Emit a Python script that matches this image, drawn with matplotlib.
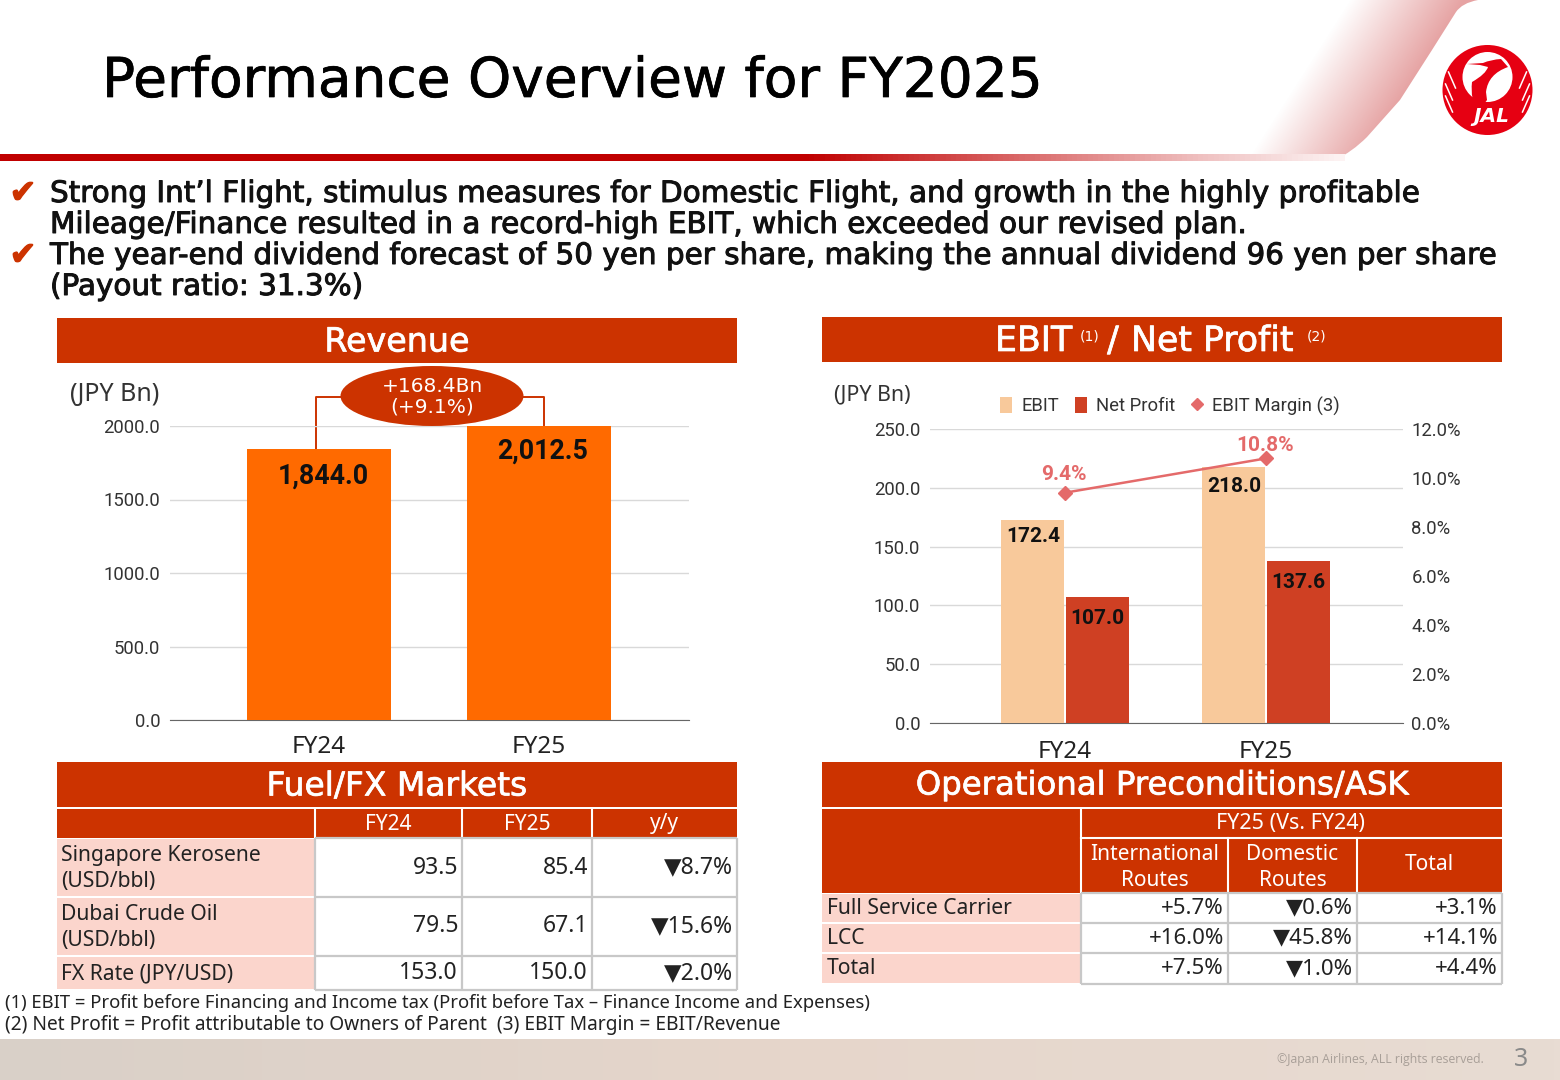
import numpy as np
import matplotlib
matplotlib.use('Agg')
import matplotlib.pyplot as plt
import matplotlib.patheffects as pe
from matplotlib.colors import LinearSegmentedColormap
from matplotlib.patches import Rectangle, Ellipse, Circle, PathPatch
from matplotlib.path import Path

plt.rcParams['font.family'] = ['DejaVu Sans']

# Data
revenue_cats = ['FY24', 'FY25']
revenue_vals = [1844.0, 2012.5]
revenue_labels = ['1,844.0', '2,012.5']
revenue_ticks = [0, 500, 1000, 1500, 2000]

profit_cats = ['FY24', 'FY25']
ebit_vals = [172.4, 218.0]
net_profit_vals = [107.0, 137.6]
ebit_margin = [9.4, 10.8]
profit_ticks = [0, 50, 100, 150, 200, 250]
margin_ticks = [0, 2, 4, 6, 8, 10, 12]

fuel_header = ['', 'FY24', 'FY25', 'y/y']
fuel_rows = ['Singapore Kerosene\n(USD/bbl)', 'Dubai Crude Oil\n(USD/bbl)', 'FX Rate (JPY/USD)']
fuel_fy24 = ['93.5', '79.5', '153.0']
fuel_fy25 = ['85.4', '67.1', '150.0']
fuel_yoy = ['▼8.7%', '▼15.6%', '▼2.0%']

ask_header = ['International\nRoutes', 'Domestic\nRoutes', 'Total']
ask_rows = ['Full Service Carrier', 'LCC', 'Total']
ask_intl = ['+5.7%', '+16.0%', '+7.5%']
ask_dom = ['▼0.6%', '▼45.8%', '▼1.0%']
ask_total = ['+3.1%', '+14.1%', '+4.4%']

RED = '#cc3300'
PINK = '#fbd5cc'
ORANGE = '#ff6a00'
GRID = '#c8c8c8'
TBL = 'Noto Sans'
W, H = 1560, 1080

fig = plt.figure(figsize=(15.6, 10.8), dpi=100)
bg = fig.add_axes([0, 0, 1, 1], zorder=0)
bg.axis('off')


def px_axes(x0, x1, ytop, ybot):
    ax = fig.add_axes([x0 / W, 1 - ybot / H, (x1 - x0) / W, (ybot - ytop) / H], zorder=1)
    ax.patch.set_alpha(0)
    return ax


def rect(x0, y0, x1, y1, color, z=1):
    bg.add_patch(Rectangle((x0, y0), x1 - x0, y1 - y0, fc=color, ec='none', zorder=z))


def bold_ish(t, color, w=0.6):
    # fake a medium weight, DejaVu only has regular and bold
    t.set_path_effects([pe.withStroke(linewidth=w, foreground=color)])
    return t


def cell_grid(xs, ys):
    # grey lines in the body of the tables
    for x in xs[1:]:
        bg.plot([x, x], [ys[0], ys[-1]], color=GRID, lw=1.6, zorder=3, solid_capstyle='butt')
    for y in ys:
        bg.plot([xs[1], xs[-1]], [y, y], color=GRID, lw=1.6, zorder=3, solid_capstyle='butt')


# swoosh, fades out to the left of its edge
grad = np.linspace(0, 1, 256).reshape(1, -1)
xx, yy = np.meshgrid(np.arange(1200, 1500), np.arange(0, 160))
fade = np.clip(1 - ((1432 - (yy - 50) * 0.64) - xx) / 115, 0, 1)
white_red = LinearSegmentedColormap.from_list('wr', ['#ffffff', '#e6a3a3'])
sw = bg.imshow(fade, extent=(1200, 1500, 160, 0), cmap=white_red, aspect='auto', zorder=1)
verts = [(1200, 160), (1335, 160), (1352, 152), (1367, 137), (1400, 100), (1432, 50), (1456, 12),
         (1462, 3), (1478, 0), (1200, 0), (1200, 160)]
codes = [Path.MOVETO, Path.LINETO, Path.CURVE3, Path.CURVE3, Path.LINETO, Path.LINETO, Path.LINETO,
         Path.CURVE3, Path.CURVE3, Path.LINETO, Path.CLOSEPOLY]
clip = PathPatch(Path(verts, codes), transform=bg.transData, fc='none', ec='none')
bg.add_patch(clip)
sw.set_clip_path(clip)
line_grad = LinearSegmentedColormap.from_list(
    'line', [(0, '#c00000'), (0.6, '#c00000'), (0.9, '#f0c4c4'), (1, '#fdf3f3')])
bg.imshow(grad, extent=(0, 1345, 161, 154), cmap=line_grad, aspect='auto', zorder=2)

# JAL logo, drawn roughly
LOGO = '#e60012'
bg.add_patch(Circle((1487.5, 90), 45, fc=LOGO, ec='none', zorder=3))
bg.add_patch(Circle((1487.5, 77), 25, fc='white', ec='none', zorder=4))
crane = [(1467, 64), (1483, 63), (1491, 59.5), (1501, 59), (1508, 67), (1488, 74), (1486, 92), (1487, 100),
         (1478, 112), (1470, 100), (1472, 82), (1486, 74), (1488, 67), (1480, 65), (1467, 64)]
crane_codes = [Path.MOVETO, Path.LINETO, Path.CURVE3, Path.CURVE3, Path.LINETO, Path.CURVE3, Path.CURVE3,
               Path.LINETO, Path.LINETO, Path.CURVE3, Path.CURVE3, Path.CURVE3, Path.LINETO, Path.LINETO, Path.LINETO]
bg.add_patch(PathPatch(Path(crane, crane_codes), fc=LOGO, ec='none', zorder=5))
for sign in (-1, 1):
    for dx, y0 in [(39, 72), (42, 84), (42, 96)]:
        bg.plot([1487.5 + sign * dx, 1487.5 + sign * (dx - 7)], [y0, y0 + 16], color='white', lw=1.1, zorder=5)
bg.text(1491, 116, 'JAL', color='white', fontsize=14.5, fontweight='bold', style='italic',
        ha='center', va='center', zorder=6)

bold_ish(bg.text(102, 82, 'Performance Overview for FY2025', fontsize=39.6, ha='left', va='center', color='black'),
         'black', 0.5)

# bullets
bullet_lines = [
    (194, 'Strong Int’l Flight, stimulus measures for Domestic Flight, and growth in the highly profitable'),
    (225, 'Mileage/Finance resulted in a record-high EBIT, which exceeded our revised plan.'),
    (256, 'The year-end dividend forecast of 50 yen per share, making the annual dividend 96 yen per share'),
    (287, '(Payout ratio: 31.3%)'),
]
for y, t in bullet_lines:
    bold_ish(bg.text(50, y, t, fontsize=21.2, ha='left', va='center', color='#111111'), '#111111', 0.7)
for y in [194, 256]:
    bold_ish(bg.text(23, y, '✔', fontsize=23, color=RED, ha='center', va='center'), RED, 1.0)


def header(x, y, txt, ha='center', size=23.7):
    bold_ish(bg.text(x, y, txt, color='white', fontsize=size, ha=ha, va='center'), 'white', 0.5)


# section headers
rect(57, 318, 737, 363, RED)
header(397, 342, 'Revenue', size=24)
rect(822, 317, 1502, 362, RED)
header(995, 341, 'EBIT', 'left', size=25)
bg.text(1090, 336, '(1)', color='white', fontsize=10, ha='center', va='center')
header(1113, 341, '/', size=25)
header(1131, 341, 'Net Profit', 'left', size=25)
bg.text(1317, 336, '(2)', color='white', fontsize=10, ha='center', va='center')
rect(57, 762, 737, 807, RED)
header(397, 786, 'Fuel/FX Markets')
rect(822, 762, 1502, 807, RED)
header(1162, 786, 'Operational Preconditions/ASK', size=23.3)

# revenue chart
ax = px_axes(170, 689, 426, 720)
x = np.arange(len(revenue_cats))
ax.bar(x, revenue_vals, width=144 / 220, color=ORANGE, zorder=3)
ax.set_xlim(-149 / 220, 1 + 150 / 220)
ax.set_ylim(0, 2000)
ax.set_yticks(revenue_ticks, [f'{v:.1f}' for v in revenue_ticks], family='Roboto', fontsize=13.3, color='#333333')
ax.set_xticks(x, revenue_cats, fontsize=17.5, color='#222222', family=TBL)
ax.tick_params(axis='both', length=0)
ax.tick_params(axis='y', pad=7)
ax.tick_params(axis='x', pad=11)
ax.grid(axis='y', color='#d9d9d9', lw=1, zorder=0)
for s in ['top', 'right', 'left']:
    ax.spines[s].set_visible(False)
ax.spines['bottom'].set_color('#666666')
for xi, v, lab in zip(x, revenue_vals, revenue_labels):
    ax.annotate(lab, (xi, v), xytext=(4, -27), textcoords='offset pixels', ha='center', va='center',
                fontsize=19.3, fontweight='bold', family='Roboto', color='#111111', annotation_clip=False, zorder=5)
bg.text(115, 395, '(JPY Bn)', fontsize=18, ha='center', va='center', color='#333333', family=TBL)
bg.plot([315.5, 315.5, 345], [450, 396.5, 396.5], color=RED, lw=1.4, zorder=2)
bg.plot([520, 544, 544], [396.5, 396.5, 425], color=RED, lw=1.4, zorder=2)
bg.add_patch(Ellipse((432, 396), 183, 60, fc=RED, ec='none', zorder=3))
bg.text(432, 386, '+168.4Bn', color='white', fontsize=14.5, ha='center', va='center', zorder=4)
bg.text(432, 407, '(+9.1%)', color='white', fontsize=14.5, ha='center', va='center', zorder=4)

# EBIT / net profit chart
ax2 = px_axes(930, 1403, 429, 723)
x = np.arange(len(profit_cats))
bw = 63 / 201
off = 32.5 / 201
ax2.bar(x - off, ebit_vals, width=bw, color='#f8c99b', zorder=3, label='EBIT')
ax2.bar(x + off, net_profit_vals, width=bw, color='#cf4023', zorder=3, label='Net Profit')
ax2.set_xlim(-135 / 201, 1 + 137 / 201)
ax2.set_ylim(0, 250)
ax2.set_yticks(profit_ticks, [f'{v:.1f}' for v in profit_ticks], family='Roboto', fontsize=13.3, color='#333333')
ax2.set_xticks(x, profit_cats, fontsize=17.5, color='#222222', family=TBL)
ax2.tick_params(axis='both', length=0)
ax2.tick_params(axis='y', pad=7)
ax2.tick_params(axis='x', pad=12)
ax2.grid(axis='y', color='#d9d9d9', lw=1, zorder=0)
for s in ['top', 'right', 'left']:
    ax2.spines[s].set_visible(False)
ax2.spines['bottom'].set_color('#666666')
for xi, v, dy in zip(x - off, ebit_vals, [-16, -20]):
    ax2.annotate(f'{v:.1f}', (xi, v), xytext=(1, dy), textcoords='offset pixels', ha='center', va='center',
                 fontsize=15, fontweight='bold', family='Roboto', color='#111111', zorder=5)
for xi, v in zip(x + off, net_profit_vals):
    ax2.annotate(f'{v:.1f}', (xi, v), xytext=(0, -21), textcoords='offset pixels', ha='center', va='center',
                 fontsize=15, fontweight='bold', family='Roboto', color='#111111', zorder=5)

ax3 = ax2.twinx()
ax3.patch.set_alpha(0)
ax3.plot(x, ebit_margin, color='#e46a6a', lw=1.8, marker='D', ms=7, zorder=6, label='EBIT Margin (3)')
ax3.set_ylim(0, 12)
ax3.set_yticks(margin_ticks, [f'{v:.1f}%' for v in margin_ticks], family='Roboto', fontsize=13.3, color='#333333')
ax3.tick_params(axis='y', length=0, pad=6)
for s in ax3.spines.values():
    s.set_visible(False)
for xi, v, dy in zip(x, ebit_margin, [18, 13]):
    ax3.annotate(f'{v:.1f}%', (xi, v), xytext=(-1, dy), textcoords='offset pixels', ha='center', va='center',
                 fontsize=15, fontweight='bold', family='Roboto', color='#e46a6a')
bg.text(872, 395, '(JPY Bn)', fontsize=15.4, ha='center', va='center', color='#333333', family=TBL)
h1, l1 = ax2.get_legend_handles_labels()
h3, l3 = ax3.get_legend_handles_labels()
h3[0] = plt.Line2D([], [], ls='none', marker='D', ms=6, color='#e46a6a')
ax2.legend(h1 + h3, l1 + l3, ncol=3, frameon=False, loc='center', bbox_to_anchor=(1170, 406),
           bbox_transform=bg.transData, prop={'family': 'Roboto', 'size': 13.3}, handlelength=0.65,
           handleheight=0.9, handletextpad=0.5, columnspacing=0.85, labelcolor='#333333')

# fuel table
fx = [57, 315, 462, 592, 737]
fy = [838, 897, 956, 990]
rect(fx[0], 809, fx[-1], 838, RED)
for i in range(1, 4):
    bg.text((fx[i] + fx[i + 1]) / 2, 824, fuel_header[i], color='white', fontsize=15, ha='center', va='center', family=TBL)
for xv in fx[1:-1]:
    bg.plot([xv, xv], [809, 838], color='white', lw=1.5, zorder=3)
for r, name in enumerate(fuel_rows):
    rect(fx[0], fy[r] + 1, fx[1] - 1, fy[r + 1] - 1, PINK)
    yc = (fy[r] + fy[r + 1]) / 2
    if '\n' in name:
        a, b = name.split('\n')
        bg.text(61, yc - 12, a, fontsize=15.2, ha='left', va='center', color='#222222', family=TBL)
        bg.text(61, yc + 14, b, fontsize=15.2, ha='left', va='center', color='#222222', family=TBL)
    else:
        bg.text(61, yc + 1, name, fontsize=15.2, ha='left', va='center', color='#222222', family=TBL)
    for c, col in enumerate([fuel_fy24, fuel_fy25, fuel_yoy]):
        bg.text(fx[c + 2] - 4, yc, col[r], fontsize=16.5, ha='right', va='center', color='#222222', family=[TBL, 'DejaVu Sans'])
cell_grid(fx, fy)

# ASK table
ax_x = [822, 1081, 1228, 1357, 1502]
ax_y = [893, 923, 953, 984]
rect(ax_x[0], 809, ax_x[-1], 893, RED)
bg.plot([1081, 1081], [809, 893], color='white', lw=1.5, zorder=3)
bg.plot([1081, 1502], [838, 838], color='white', lw=1.5, zorder=3)
for xv in ax_x[2:-1]:
    bg.plot([xv, xv], [838, 893], color='white', lw=1.5, zorder=3)
bg.text(1291, 824, 'FY25 (Vs. FY24)', color='white', fontsize=15.5, ha='center', va='center', family=TBL)
for i, name in enumerate(ask_header):
    xc = (ax_x[i + 1] + ax_x[i + 2]) / 2
    if '\n' in name:
        a, b = name.split('\n')
        bg.text(xc, 854, a, color='white', fontsize=15, ha='center', va='center', family=TBL)
        bg.text(xc, 880, b, color='white', fontsize=15, ha='center', va='center', family=TBL)
    else:
        bg.text(xc, 865, name, color='white', fontsize=15, ha='center', va='center', family=TBL)
for r, name in enumerate(ask_rows):
    rect(ax_x[0], ax_y[r] + 1, ax_x[1] - 1, ax_y[r + 1] - 1, PINK)
    yc = (ax_y[r] + ax_y[r + 1]) / 2
    bg.text(827, yc, name, fontsize=15.2, ha='left', va='center', color='#222222', family=TBL)
    for c, col in enumerate([ask_intl, ask_dom, ask_total]):
        bg.text(ax_x[c + 2] - 4, yc, col[r], fontsize=16, ha='right', va='center', color='#222222', family=[TBL, 'DejaVu Sans'])
cell_grid(ax_x, ax_y)

# notes + footer
bg.text(5, 1003, '(1) EBIT = Profit before Financing and Income tax (Profit before Tax – Finance Income and Expenses)',
        fontsize=13.3, ha='left', va='center', color='#222222', family=TBL)
bg.text(5, 1025, '(2) Net Profit = Profit attributable to Owners of Parent  (3) EBIT Margin = EBIT/Revenue',
        fontsize=13.8, ha='left', va='center', color='#222222', family=TBL)
foot = LinearSegmentedColormap.from_list('foot', ['#d9d0c8', '#e6d6cb', '#e8dcd3'])
bg.imshow(grad, extent=(0, W, 1080, 1039), cmap=foot, aspect='auto', zorder=1)
bg.text(1484, 1060, '©Japan Airlines, ALL rights reserved.', fontsize=8.8, ha='right', va='center', color='#a89f98', zorder=3, family='Open Sans')
bg.text(1521, 1060, '3', fontsize=18, ha='center', va='center', color='#8a8a8a', zorder=3, family=TBL)

# imshow resets the limits, so set them last
bg.set_xlim(0, W)
bg.set_ylim(H, 0)

fig.savefig('out.png', dpi=100)
